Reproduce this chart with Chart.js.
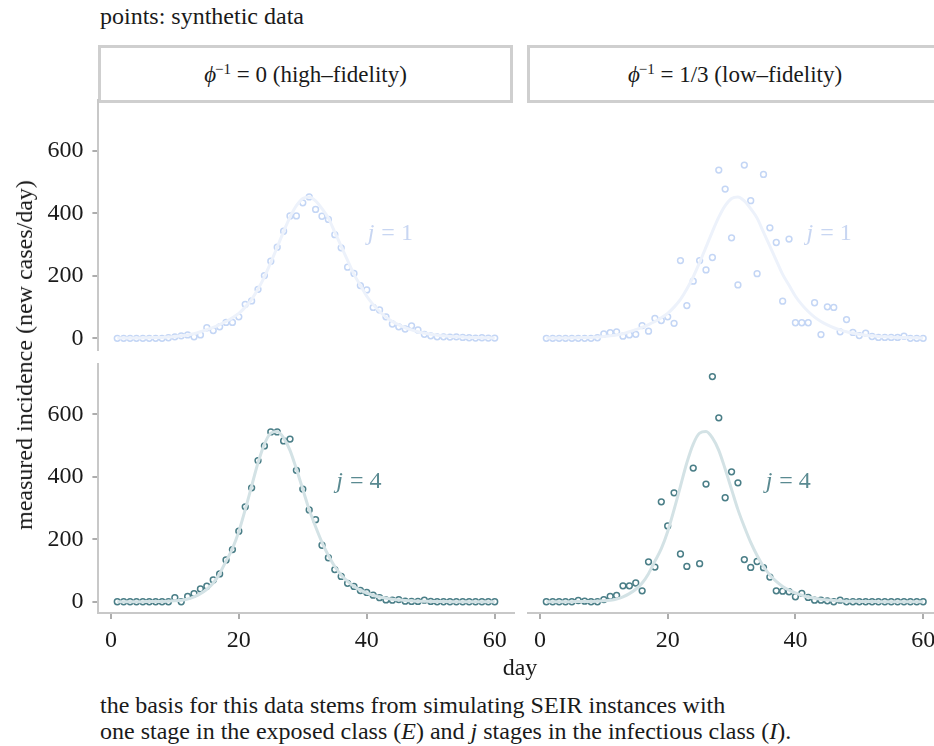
<!DOCTYPE html>
<html>
<head>
<meta charset="utf-8">
<script src="https://cdn.jsdelivr.net/npm/chart.js@4.4.1/dist/chart.umd.min.js"></script>
<style>
  body { margin: 0; overflow: hidden; background: #fff; }
  #wrap { position: relative; width: 934px; height: 746px; overflow: hidden;
          font-family: "Liberation Serif", "Times New Roman", serif; color: #1a1a1a; }
  canvas { position: absolute; }
  .txt { position: absolute; font-size: 24px; line-height: 24px; white-space: nowrap; }
  .strip { position: absolute; top: 45px; height: 52px; border: 3px solid #cfcfcf; background: #fff;
           display: flex; align-items: center; justify-content: center; font-size: 23px; line-height: 23px; }
  .strip sup { font-size: 15px; line-height: 0; vertical-align: 8px; margin-left: -1px; }
</style>
</head>
<body>
<div id="wrap">
  <div class="txt" style="left:100px; top:4px;">points: synthetic data</div>

  <div class="strip" style="left:98px; width:409px;"><span><i>ϕ</i><sup>−1</sup> = 0 (high–fidelity)</span></div>
  <div class="strip" style="left:527px; width:420px;"><span style="margin-left:-10px"><i>ϕ</i><sup>−1</sup> = 1/3 (low–fidelity)</span></div>

  <canvas id="tl" width="534" height="310" style="left:0; top:70px;"></canvas>
  <canvas id="tr" width="460" height="310" style="left:500px; top:70px;"></canvas>
  <canvas id="bl" width="534" height="327" style="left:0; top:333px;"></canvas>
  <canvas id="br" width="460" height="327" style="left:500px; top:333px;"></canvas>

  <div class="txt" style="left:24px; top:355px; transform: translate(-50%, -50%) rotate(-90deg);">measured incidence (new cases/day)</div>
  <div class="txt" style="left:520px; top:655px; transform: translateX(-50%);">day</div>

  <div class="txt" style="left:100px; top:692px; line-height:26px;">the basis for this data stems from simulating SEIR instances with<br>one stage in the exposed class (<i>E</i>) and <i>j</i> stages in the infectious class (<i>I</i>).</div>
</div>

<script>
// ---------------- données ----------------

const days = [1,2,3,4,5,6,7,8,9,10,11,12,13,14,15,16,17,18,19,20,
              21,22,23,24,25,26,27,28,29,30,31,32,33,34,35,36,37,38,39,40,
              41,42,43,44,45,46,47,48,49,50,51,52,53,54,55,56,57,58,59,60];
const xTicks = [0, 20, 40, 60];
const yTicks = [0, 200, 400, 600];

// points, j = 1
const hiFiJ1 = [0,0,0,0,0,0,0,0,2,5,8,11,5,11,34,25,37,51,51,69,
                109,120,157,201,247,292,343,392,392,434,453,413,391,381,332,290,228,208,169,155,
                99,91,69,46,37,30,40,27,13,8,5,5,4,5,3,2,1,2,1,1];
const loFiJ1 = [0,0,0,0,0,0,0,0,2,14,18,21,7,11,13,41,23,64,57,69,
                48,249,105,183,249,219,259,539,478,322,171,555,441,207,525,354,307,119,318,50,
                50,50,114,12,101,99,21,60,19,9,17,6,3,3,3,3,7,0,0,0];
// points, j = 4
const hiFiJ4 = [0,0,0,0,0,0,0,0,0,13,0,17,26,41,50,70,89,134,167,226,
                304,365,452,499,544,544,515,521,421,361,294,263,181,141,103,81,59,49,36,30,
                21,13,6,5,7,2,1,1,5,1,0,0,0,0,0,0,0,0,0,0];
const loFiJ4 = [0,0,0,0,0,4,2,0,0,7,17,20,51,51,60,35,128,111,320,243,
                349,153,113,428,122,377,721,589,333,416,381,135,110,129,109,79,35,34,32,16,
                27,14,5,5,3,0,5,0,0,0,0,0,0,0,0,0,0,0,0,0];
// courbes du modèle
const modelJ1 = [1,1,1,1,2,2,3,3,4,6,8,11,15,21,28,35,44,54,66,80,
                 100,125,158,197,243,292,342,388,425,448,453,440,415,385,340,295,250,205,170,135,
                 108,86,68,54,43,34,27,21,17,13,10,8,6,5,4,3,3,2,2,1];
const modelJ4 = [0,0,0,0,0,1,1,1,2,3,5,9,16,26,40,60,90,130,170,225,
                 295,370,445,505,540,545,525,485,425,360,295,240,190,148,113,86,65,49,37,28,
                 21,15,11,8,6,4,3,2,2,1,1,1,0,0,0,0,0,0,0,0];

const FONT = 'Liberation Serif';

// ---------------- étiquette "j = n" ----------------
const jLabel = {
    id: 'jLabel',
    afterDatasetsDraw(chart, args, opts) {
        const ctx = chart.ctx;
        const x = chart.scales.x.getPixelForValue(opts.day);
        const y = chart.scales.y.getPixelForValue(opts.value);
        const rest = ' = ' + opts.j;
        ctx.save();
        ctx.fillStyle = opts.color;
        ctx.textBaseline = 'middle';
        ctx.textAlign = 'left';
        ctx.font = 'italic 24px "' + FONT + '"';
        const w1 = ctx.measureText('j').width;
        ctx.font = '24px "' + FONT + '"';
        const w2 = ctx.measureText(rest).width;
        const left = x - (w1 + w2) / 2;
        ctx.font = 'italic 24px "' + FONT + '"';
        ctx.fillText('j', left, y);
        ctx.font = '24px "' + FONT + '"';
        ctx.fillText(rest, left + w1 + 1, y);
        ctx.restore();
    }
};

function toXY(vals) {
    return days.map((d, i) => ({x: d, y: vals[i]}));
}

function createPanel(id, pts, model, ptColor, lineColor, lab, showX, showY, pad) {
    const ctx = document.getElementById(id).getContext('2d');
    return new Chart(ctx, {
        type: 'scatter',
        data: {
            datasets: [{
                data: toXY(model),
                showLine: true,
                borderColor: lineColor,
                borderWidth: 3,
                pointRadius: 0,
                cubicInterpolationMode: 'monotone',
                clip: false
            }, {
                data: toXY(pts),
                showLine: false,
                pointRadius: 2.9,
                pointBorderWidth: 1.5,
                pointBorderColor: ptColor,
                pointBackgroundColor: 'rgba(0,0,0,0)',
                clip: false
            }]
        },
        options: {
            responsive: false,
            animation: false,
            events: [],
            layout: { padding: pad },
            plugins: {
                legend: { display: false },
                tooltip: { enabled: false },
                jLabel: lab
            },
            scales: {
                x: {
                    type: 'linear', min: -1.95, max: 62.95, display: showX,
                    afterBuildTicks: s => { s.ticks = xTicks.map(v => ({value: v})); },
                    afterFit: s => { if (showX) s.height = 42; },
                    border: { display: true, color: '#c8c8c8', width: 2 },
                    grid: { drawOnChartArea: false, drawTicks: true, tickLength: 6, color: '#adadad', lineWidth: 2 },
                    ticks: { color: '#1a1a1a', font: { family: FONT, size: 24 }, padding: 7, maxRotation: 0, autoSkip: false }
                },
                y: {
                    type: 'linear', min: -36, max: 763, display: showY,
                    afterBuildTicks: s => { s.ticks = yTicks.map(v => ({value: v})); },
                    afterFit: s => { if (showY) s.width = 98.4; },
                    border: { display: true, color: '#c8c8c8', width: 2 },
                    grid: { drawOnChartArea: false, drawTicks: true, tickLength: 6, color: '#adadad', lineWidth: 2 },
                    ticks: { color: '#1a1a1a', font: { family: FONT, size: 24 }, padding: 9, autoSkip: false }
                }
            }
        },
        plugins: [jLabel]
    });
}

const topColor = '#c4d6f5', topLine = '#edf2fb', topText = '#c8d6f2';
const botColor = '#4a7e87', botLine = '#d3e2e5', botText = '#5a8a91';

// zone de tracé: gauche x 98.4-513.6, droite x 527.5-942 ; haut y 100.1-349.6, bas y 363.5-613
createPanel('tl', hiFiJ1, modelJ1, topColor, topLine,
    {day: 43.6, value: 334, j: 1, color: topText}, false, true,
    {top: 30.1, right: 20.4, bottom: 30.4, left: 0});
createPanel('tr', loFiJ1, modelJ1, topColor, topLine,
    {day: 45.2, value: 336, j: 1, color: topText}, false, false,
    {top: 30.1, right: 18, bottom: 30.4, left: 27.5});
createPanel('bl', hiFiJ4, modelJ4, botColor, botLine,
    {day: 38.7, value: 383, j: 4, color: botText}, true, true,
    {top: 30.5, right: 20.4, bottom: 5, left: 0});
createPanel('br', loFiJ4, modelJ4, botColor, botLine,
    {day: 38.8, value: 383, j: 4, color: botText}, true, false,
    {top: 30.5, right: 18, bottom: 5, left: 27.5});
</script>
</body>
</html>
